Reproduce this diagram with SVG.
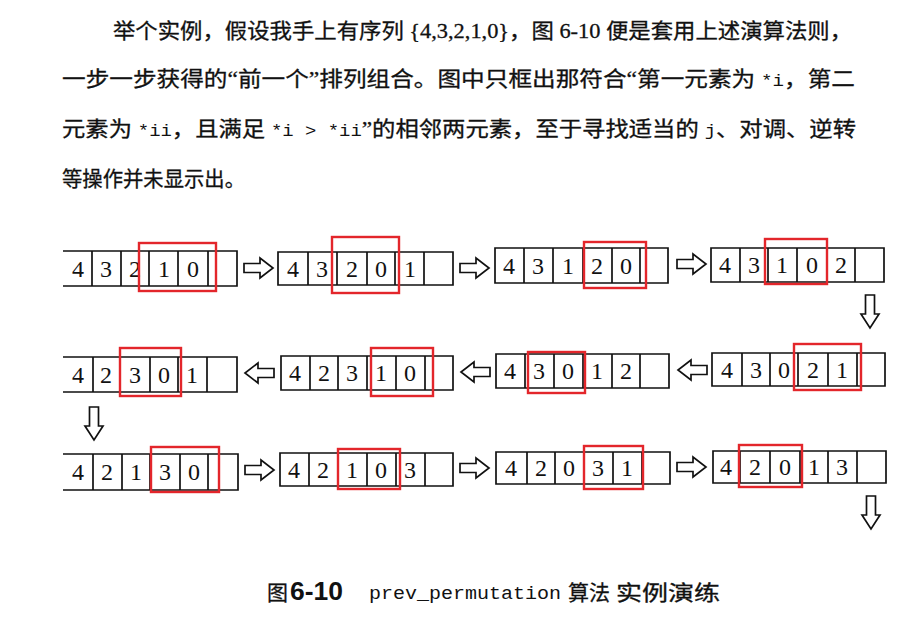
<svg xmlns="http://www.w3.org/2000/svg" width="913" height="618" viewBox="0 0 913 618">
<style>
.p{font-family:"Liberation Serif","Noto Sans CJK SC",serif;font-size:21px;fill:#111;stroke:#111;stroke-width:0.3}
.m{font-family:"Liberation Mono",monospace;font-size:17px;stroke-width:0}
.cell{fill:#fff;stroke:#111;stroke-width:1.7}
.d{font-family:"Liberation Serif",serif;font-size:24px;fill:#111;text-anchor:middle}
.red{fill:none;stroke:#e3262b;stroke-width:2.4}
.arr{fill:#fff;stroke:#111;stroke-width:1.7;stroke-linejoin:miter}
.cap{font-family:"Noto Sans CJK SC",sans-serif;font-size:21px;fill:#111;stroke:#111;stroke-width:0.3}
</style>
<defs>
<path id="ra" d="M0,-4.5 H16 V-10 L29,0 L16,10 V4.5 H0 Z"/>
<path id="la" d="M0,-4.5 H-16 V-10 L-29,0 L-16,10 V4.5 H0 Z"/>
<path id="da" d="M-4.5,0 V19 H-9 L0,33 L9,19 H4.5 V0 Z"/>
</defs>
<rect width="913" height="618" fill="#fff"/>
<g id="paragraph">
<text class="p" x="113" y="38" textLength="739" lengthAdjust="spacingAndGlyphs">举个实例，假设我手上有序列 {4,3,2,1,0}，图 6-10 便是套用上述演算法则，</text>
<text class="p" x="62" y="86" textLength="793" lengthAdjust="spacingAndGlyphs">一步一步获得的“前一个”排列组合。图中只框出那符合“第一元素为 <tspan class="m">*i</tspan>，第二</text>
<text class="p" x="62" y="136" textLength="794" lengthAdjust="spacingAndGlyphs">元素为 <tspan class="m">*ii</tspan>，且满足 <tspan class="m">*i &gt; *ii</tspan>”的相邻两元素，至于寻找适当的 <tspan class="m">j</tspan>、对调、逆转</text>
<text class="p" x="62" y="186" textLength="183" lengthAdjust="spacingAndGlyphs">等操作并未显示出。</text>
</g>
<g id="a1">
<path class="cell" d="M63,251 H237 V286 H63 M92,251 V286 M121,251 V286 M149,251 V286 M178,251 V286 M208,251 V286"/>
<text class="d" x="78" y="277">4</text><text class="d" x="106" y="277">3</text><text class="d" x="135" y="277">2</text><text class="d" x="164" y="277">1</text><text class="d" x="193" y="277">0</text>
<rect class="red" x="139" y="243" width="77" height="48"/>
</g>
<g id="a2">
<path class="cell" d="M278,252 H453 V285 H278 Z M308,252 V285 M337,252 V285 M367,252 V285 M395,252 V285 M424,252 V285"/>
<text class="d" x="293" y="277">4</text><text class="d" x="322" y="277">3</text><text class="d" x="352" y="277">2</text><text class="d" x="381" y="277">0</text><text class="d" x="410" y="277">1</text>
<rect class="red" x="332" y="237" width="67" height="56"/>
</g>
<g id="a3">
<path class="cell" d="M495,248 H668 V283 H495 Z M524,248 V283 M553,248 V283 M583,248 V283 M612,248 V283 M640,248 V283"/>
<text class="d" x="509" y="274">4</text><text class="d" x="538" y="274">3</text><text class="d" x="568" y="274">1</text><text class="d" x="597" y="274">2</text><text class="d" x="626" y="274">0</text>
<rect class="red" x="584" y="242" width="62" height="46"/>
</g>
<g id="a4">
<path class="cell" d="M711,248 H884 V282 H711 Z M740,248 V282 M768,248 V282 M797,248 V282 M827,248 V282 M855,248 V282"/>
<text class="d" x="725" y="273">4</text><text class="d" x="754" y="273">3</text><text class="d" x="782" y="273">1</text><text class="d" x="812" y="273">0</text><text class="d" x="841" y="273">2</text>
<rect class="red" x="765" y="239" width="62" height="45"/>
</g>
<g id="a5">
<path class="cell" d="M63,357 H237 V392 H63 M93,357 V392 M120,357 V392 M150,357 V392 M178,357 V392 M207,357 V392"/>
<text class="d" x="78" y="383">4</text><text class="d" x="106" y="383">2</text><text class="d" x="135" y="383">3</text><text class="d" x="164" y="383">0</text><text class="d" x="192" y="383">1</text>
<rect class="red" x="120" y="348" width="61" height="48"/>
</g>
<g id="a6">
<path class="cell" d="M281,356 H453 V390 H281 Z M310,356 V390 M338,356 V390 M367,356 V390 M396,356 V390 M425,356 V390"/>
<text class="d" x="295" y="381">4</text><text class="d" x="324" y="381">2</text><text class="d" x="352" y="381">3</text><text class="d" x="381" y="381">1</text><text class="d" x="410" y="381">0</text>
<rect class="red" x="371" y="348" width="62" height="48"/>
</g>
<g id="a7">
<path class="cell" d="M496,354 H669 V388 H496 Z M525,354 V388 M554,354 V388 M583,354 V388 M612,354 V388 M640,354 V388"/>
<text class="d" x="510" y="379">4</text><text class="d" x="539" y="379">3</text><text class="d" x="568" y="379">0</text><text class="d" x="597" y="379">1</text><text class="d" x="626" y="379">2</text>
<rect class="red" x="528" y="352" width="57" height="41"/>
</g>
<g id="a8">
<path class="cell" d="M712,353 H885 V386 H712 Z M742,353 V386 M770,353 V386 M798,353 V386 M828,353 V386 M857,353 V386"/>
<text class="d" x="727" y="378">4</text><text class="d" x="756" y="378">3</text><text class="d" x="784" y="378">0</text><text class="d" x="813" y="378">2</text><text class="d" x="842" y="378">1</text>
<rect class="red" x="794" y="344" width="67" height="46"/>
</g>
<g id="a9">
<path class="cell" d="M63,454 H238 V490 H63 M93,454 V490 M122,454 V490 M150,454 V490 M180,454 V490 M208,454 V490"/>
<text class="d" x="78" y="480">4</text><text class="d" x="107" y="480">2</text><text class="d" x="136" y="480">1</text><text class="d" x="165" y="480">3</text><text class="d" x="194" y="480">0</text>
<rect class="red" x="151" y="447" width="68" height="45"/>
</g>
<g id="a10">
<path class="cell" d="M280,453 H453 V486 H280 Z M309,453 V486 M338,453 V486 M367,453 V486 M396,453 V486 M425,453 V486"/>
<text class="d" x="294" y="478">4</text><text class="d" x="323" y="478">2</text><text class="d" x="352" y="478">1</text><text class="d" x="381" y="478">0</text><text class="d" x="410" y="478">3</text>
<rect class="red" x="338" y="449" width="62" height="40"/>
</g>
<g id="a11">
<path class="cell" d="M496,452 H670 V484 H496 Z M527,452 V484 M555,452 V484 M584,452 V484 M613,452 V484 M642,452 V484"/>
<text class="d" x="511" y="476">4</text><text class="d" x="541" y="476">2</text><text class="d" x="569" y="476">0</text><text class="d" x="598" y="476">3</text><text class="d" x="627" y="476">1</text>
<rect class="red" x="584" y="446" width="59" height="43"/>
</g>
<g id="a12">
<path class="cell" d="M713,451 H886 V483 H713 Z M740,451 V483 M770,451 V483 M800,451 V483 M828,451 V483 M857,451 V483"/>
<text class="d" x="726" y="475">4</text><text class="d" x="755" y="475">2</text><text class="d" x="785" y="475">0</text><text class="d" x="814" y="475">1</text><text class="d" x="842" y="475">3</text>
<rect class="red" x="739" y="445" width="63" height="42"/>
</g>
<g id="connectors" class="arr">
<use href="#ra" x="244" y="268"/>
<use href="#ra" x="460" y="268"/>
<use href="#ra" x="677" y="264"/>
<use href="#da" x="870" y="295"/>
<use href="#la" x="490" y="372"/>
<use href="#la" x="707" y="370"/>
<use href="#la" x="274" y="373"/>
<use href="#da" x="94" y="407"/>
<use href="#ra" x="245" y="470"/>
<use href="#ra" x="460" y="468"/>
<use href="#ra" x="677" y="467"/>
<use href="#da" x="871" y="496"/>
</g>
<g id="caption">
<text class="cap" x="267" y="600">图</text>
<text x="290" y="600" font-family="Liberation Sans,sans-serif" font-weight="bold" font-size="25" fill="#111" textLength="53" lengthAdjust="spacingAndGlyphs">6-10</text>
<text x="369" y="599" font-family="Liberation Mono,monospace" font-size="19" fill="#111" textLength="192" lengthAdjust="spacingAndGlyphs">prev_permutation</text>
<text class="cap" x="568" y="600">算法</text>
<text class="cap" x="616" y="600" textLength="104" lengthAdjust="spacingAndGlyphs">实例演练</text>
</g>
</svg>
